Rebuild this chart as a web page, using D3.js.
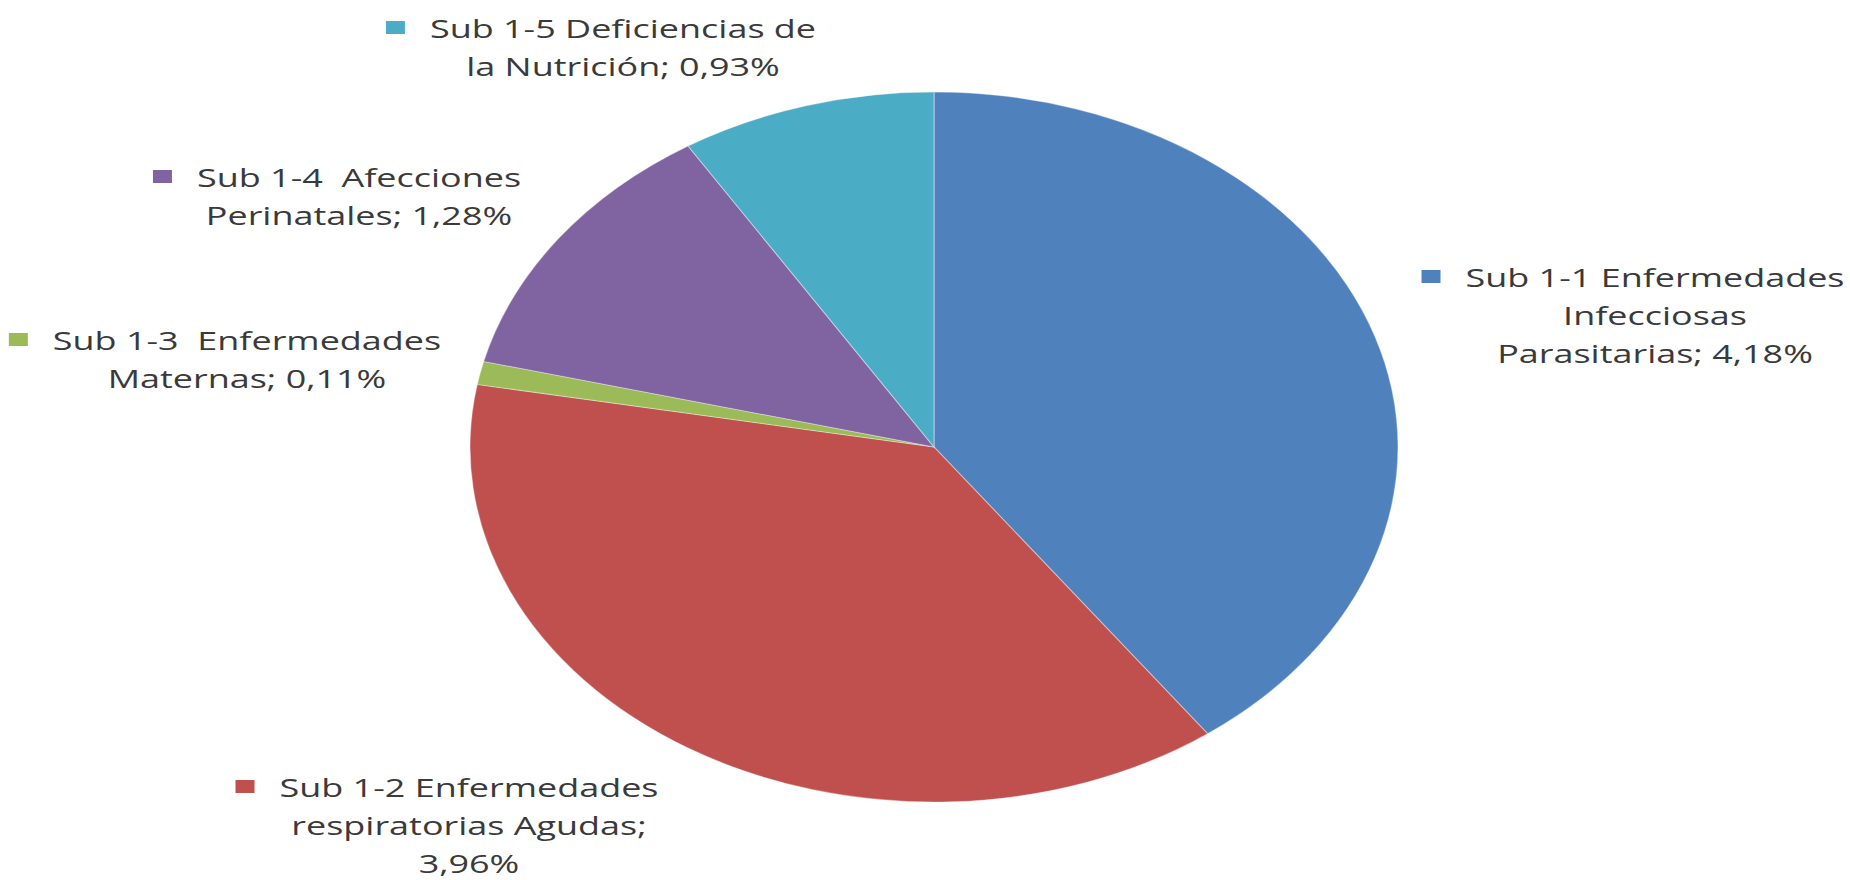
<!DOCTYPE html>
<html><head><meta charset="utf-8">
<script src="https://cdn.jsdelivr.net/npm/d3@7"></script>
<style>
html,body{margin:0;padding:0;background:#fff;}
svg{display:block;}
text{font-family:"Open Sans",sans-serif;fill:#3a3a3a;white-space:pre;}
</style></head>
<body>
<svg id="chart" width="1850" height="880"></svg>
<script>
// ---- data ----
const categories = [
  "Sub 1-1 Enfermedades Infecciosas Parasitarias",
  "Sub 1-2 Enfermedades respiratorias Agudas",
  "Sub 1-3  Enfermedades Maternas",
  "Sub 1-4  Afecciones Perinatales",
  "Sub 1-5 Deficiencias de la Nutrición"
];
const values = [4.18, 3.96, 0.11, 1.28, 0.93];
const colors = ["#4F81BD", "#C0504D", "#9BBB59", "#8064A2", "#4BACC6"];
// label line breaks as in the reference
const labelLines = [
  ["Sub 1-1 Enfermedades", "Infecciosas", "Parasitarias; {v}"],
  ["Sub 1-2 Enfermedades", "respiratorias Agudas;", "{v}"],
  ["Sub 1-3  Enfermedades", "Maternas; {v}"],
  ["Sub 1-4  Afecciones", "Perinatales; {v}"],
  ["Sub 1-5 Deficiencias de", "la Nutrición; {v}"]
];
// ---- layout ----
const cx = 934, cy = 447, ry = 355, rx = 464;
const sx = rx / ry;
const labelPos = [[1655, 287], [469, 797], [247, 350], [359, 187], [623, 38]];
const lineH = 38, fontSize = 25;

const svg = d3.select("#chart");
const pie = d3.pie().sort(null).value(d => d)(values);
const arc = d3.arc().innerRadius(0).outerRadius(ry);

const g = svg.append("g").attr("transform", `translate(${cx},${cy}) scale(${sx},1)`);
g.selectAll("path").data(pie).join("path")
  .attr("d", arc)
  .attr("fill", (d, i) => colors[i])
  .attr("stroke", "rgba(255,255,255,0.35)")
  .attr("stroke-width", 1);

const fmt = v => d3.format(".2f")(v).replace(".", ",") + "%";

// calibrate horizontal stretch of text to match reference
const probe = svg.append("text").attr("font-size", fontSize).text("Sub 1-1 Enfermedades");
const tsx = 379 / probe.node().getComputedTextLength();
probe.remove();

labelLines.forEach((lines, i) => {
  const [lx, ly] = labelPos[i];
  const lg = svg.append("g");
  let firstW = 0;
  lines.forEach((t, j) => {
    const txt = lg.append("text")
      .attr("font-size", fontSize)
      .attr("text-anchor", "middle")
      .attr("transform", `translate(${lx},${ly + j * lineH}) scale(${tsx},1)`)
      .text(t.replace("{v}", fmt(values[i])));
    if (j === 0) firstW = txt.node().getComputedTextLength() * tsx;
  });
  lg.append("rect")
    .attr("x", lx - firstW / 2 - 44)
    .attr("y", ly - 17)
    .attr("width", 19)
    .attr("height", 13)
    .attr("fill", colors[i]);
});
</script>
</body></html>
